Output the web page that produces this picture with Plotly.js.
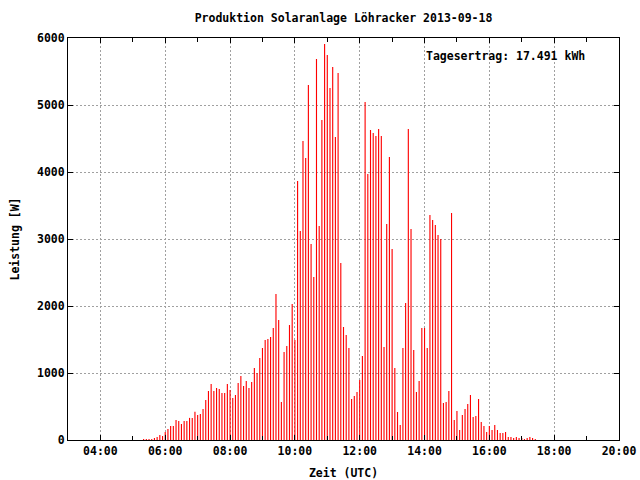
<!DOCTYPE html>
<html>
<head>
<meta charset="utf-8">
<script src="https://cdn.plot.ly/plotly-3.0.1.min.js"></script>
<style>html,body{margin:0;padding:0;background:#fff}#chart{width:640px;height:480px}</style>
</head>
<body>
<div id="chart"></div>
<script>
var day = "2013-09-18";
var times = [
"05:20","05:25","05:30","05:35","05:40","05:45","05:50","05:55",
"06:00","06:05","06:10","06:15","06:20","06:25","06:30","06:35","06:40","06:45","06:50","06:55",
"07:00","07:05","07:10","07:15","07:20","07:25","07:30","07:35","07:40","07:45","07:50","07:55",
"08:00","08:05","08:10","08:15","08:20","08:25","08:30","08:35","08:40","08:45","08:50","08:55",
"09:00","09:05","09:10","09:15","09:20","09:25","09:30","09:35","09:40","09:45","09:50","09:55",
"10:00","10:05","10:10","10:15","10:20","10:25","10:30","10:35","10:40","10:45","10:50","10:55",
"11:00","11:05","11:10","11:15","11:20","11:25","11:30","11:35","11:40","11:45","11:50","11:55",
"12:00","12:05","12:10","12:15","12:20","12:25","12:30","12:35","12:40","12:45","12:50","12:55",
"13:00","13:05","13:10","13:15","13:20","13:25","13:30","13:35","13:40","13:45","13:50","13:55",
"14:00","14:05","14:10","14:15","14:20","14:25","14:30","14:35","14:40","14:45","14:50","14:55",
"15:00","15:05","15:10","15:15","15:20","15:25","15:30","15:35","15:40","15:45","15:50","15:55",
"16:00","16:05","16:10","16:15","16:20","16:25","16:30","16:35","16:40","16:45","16:50","16:55",
"17:00","17:05","17:10","17:15","17:20","17:25"
];
var power = [
15,15,15,15,30,45,75,60,
120,165,210,210,300,285,240,285,285,330,330,420,
375,388,463,597,731,836,731,776,761,702,702,836,
746,627,672,851,955,806,881,776,866,1075,1000,1224,
1373,1493,1507,1538,1672,2179,1791,567,1313,1403,1716,2030,
1493,3866,3120,4463,4210,5300,2926,2433,5688,3195,4777,5912,
5748,5255,5569,4523,5479,2642,1687,1567,1373,612,657,716,
896,1254,5045,3970,4627,4582,4538,4642,4538,1388,3224,4224,
2851,1075,418,224,1373,2045,4642,3150,1343,716,881,1672,
1672,1373,3358,3284,3209,3060,3000,552,567,731,3388,299,
433,149,373,463,537,672,343,358,612,269,209,119,
209,149,224,149,104,104,119,45,45,30,45,30,
30,15,30,45,30,15
];
var titleText = "Produktion Solaranlage Löhracker 2013-09-18";
var yieldText = "Tagesertrag: 17.491 kWh";
var xTitle = "Zeit (UTC)";
var yTitle = "Leistung [W]";

var F = "DejaVu Sans Mono, monospace";
var fnt = {family: F, size: 11.5, color: "#000", weight: "bold"};

var xs = times.map(function(t){ return day + " " + t; });

Plotly.newPlot("chart", [{
  type: "bar",
  x: xs,
  y: power,
  width: 125000,
  marker: {color: "#ff0000", line: {width: 0}},
  hoverinfo: "skip"
}], {
  width: 640, height: 480,
  margin: {l: 68, r: 21, t: 38, b: 40, pad: 0},
  paper_bgcolor: "#fff", plot_bgcolor: "#fff",
  showlegend: false,
  font: fnt,
  title: {text: titleText, font: fnt, x: 0.5, xref: "paper", y: 0.962, yref: "container", xanchor: "center", yanchor: "middle"},
  xaxis: {
    type: "date",
    range: [day + " 03:00", day + " 20:00"],
    tick0: day + " 00:00", dtick: 7200000,
    tickformat: "%H:%M",
    ticks: "inside", ticklen: 5, tickcolor: "#000", tickwidth: 1,
    minor: {dtick: 3600000, tick0: day + " 00:00", ticks: "inside", ticklen: 4, tickcolor: "#000", showgrid: false},
    showline: true, linecolor: "#000", linewidth: 1, mirror: "ticks",
    showgrid: true, gridcolor: "#a0a0a0", gridwidth: 1, griddash: "2px,2px",
    zeroline: false,
    tickfont: fnt,
    title: {text: xTitle, font: fnt, standoff: 12}
  },
  yaxis: {
    range: [0, 6000], dtick: 1000, tick0: 0,
    ticks: "inside", ticklen: 5, tickcolor: "#000", tickwidth: 1,
    showline: true, linecolor: "#000", linewidth: 1, mirror: "ticks",
    showgrid: true, gridcolor: "#a0a0a0", gridwidth: 1, griddash: "2px,2px",
    zeroline: false,
    tickfont: fnt,
    title: {text: yTitle, font: fnt, standoff: 14}
  },
  annotations: [{
    text: yieldText, xref: "paper", yref: "paper",
    x: 0.942, y: 0.955, xanchor: "right", yanchor: "middle",
    showarrow: false, font: fnt
  }]
}, {staticPlot: true});
</script>
</body>
</html>
